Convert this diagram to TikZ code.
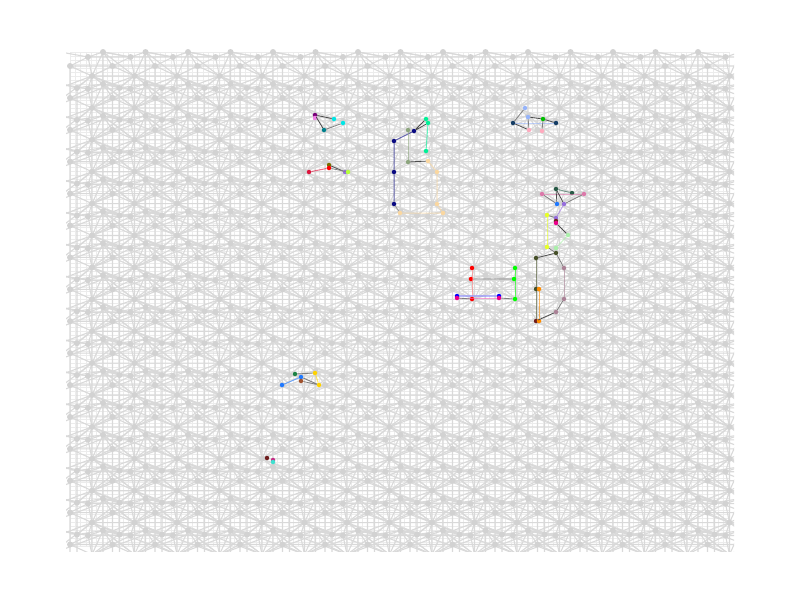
\documentclass[tikz,border=0pt]{standalone}
\usepackage{tikz}
\definecolor{navyq}{RGB}{10,10,130}
\definecolor{peachq}{RGB}{250,215,160}
\definecolor{mintq}{RGB}{0,240,150}
\definecolor{sageq}{RGB}{140,165,125}
\definecolor{tealq}{RGB}{0,128,140}
\definecolor{cyanq}{RGB}{0,230,230}
\definecolor{plumq}{RGB}{120,0,120}
\definecolor{orchq}{RGB}{240,130,230}
\definecolor{crimq}{RGB}{220,20,60}
\definecolor{oliveq}{RGB}{120,110,0}
\definecolor{mpurq}{RGB}{150,110,220}
\definecolor{limeq}{RGB}{180,255,60}
\definecolor{midnq}{RGB}{20,60,100}
\definecolor{skyq}{RGB}{150,180,250}
\definecolor{greenq}{RGB}{0,190,0}
\definecolor{rosq}{RGB}{255,170,190}
\definecolor{slateq}{RGB}{40,90,70}
\definecolor{pvioq}{RGB}{220,120,170}
\definecolor{dodgq}{RGB}{30,120,255}
\definecolor{yellq}{RGB}{230,255,40}
\definecolor{lgreenq}{RGB}{170,240,170}
\definecolor{dolivq}{RGB}{70,80,40}
\definecolor{orangq}{RGB}{255,140,0}
\definecolor{mauvq}{RGB}{170,130,150}
\definecolor{brownq}{RGB}{110,30,30}
\definecolor{seaq}{RGB}{30,130,70}
\definecolor{goldq}{RGB}{255,210,0}
\definecolor{siennq}{RGB}{160,82,45}
\definecolor{turqq}{RGB}{64,224,208}
\begin{document}
\begin{tikzpicture}[x=1pt,y=-1pt,
  qb/.style={circle,inner sep=0pt,minimum size=4.5pt,fill=#1},
  chain/.style={line width=1pt,draw=#1,opacity=.6},
  cpl/.style={line width=.8pt,draw=black!70},
  mesh/.style={draw=gray!30,line width=1.1pt}]
\useasboundingbox (0,0) rectangle (800,600);
\begin{scope}
\clip (66,48) rectangle (734,551);
\foreach \x in {0,...,124} {\draw[gray!15,line width=.5pt] (70+5.3125*\x,52)--(70+5.3125*\x,547);}
\foreach \y in {0,...,124} {\draw[gray!15,line width=.5pt] (70,52+3.9875*\y)--(730,52+3.9875*\y);}
\foreach \i in {0,...,15} {\foreach \j in {0,...,15} {
\begin{scope}[shift={(70+42.5*\i,52+31.9*\j)}]
\draw[mesh] (33,0)--(18,5) (33,0)--(22,24) (33,0)--(60.5,5) (33,0)--(42.5,14) (33,0)--(64.5,24)
  (22,24)--(0,14) (22,24)--(18,5) (22,24)--(7,36) (22,24)--(42.5,14) (22,24)--(33,31.9)
  (22,24)--(18,36.9) (22,24)--(49.5,36) (22,24)--(64.5,55.9) (22,24)--(-20.5,55.9)
  (22,24)--(64.5,24) (22,24)--(107,55.9) (22,24)--(-63,55.9) (22,24)--(22,55.9)
  (0,14)--(18,5) (7,36)--(33,31.9) (7,36)--(-9.5,31.9) (18,5)--(-9.5,0)
  (0,14)--(42.5,14) (18,5)--(60.5,5) (0,14)--(0,45.9) (7,36)--(7,67.9) (33,0)--(33,31.9);
\end{scope}}}
\foreach \i in {0,...,15} {\foreach \j in {0,...,15} {
\begin{scope}[shift={(70+42.5*\i,52+31.9*\j)}]
\foreach \p in {(0,14),(7,36),(18,5),(33,0),(22,24)} {\fill[gray!35] \p circle[radius=3pt];}
\end{scope}}}
\end{scope}
\node[qb=plumq] (p1) at (315,115) {};
\node[qb=orchq] (p2) at (315,118) {};
\node[qb=cyanq] (p3) at (334,119) {};
\node[qb=cyanq] (p4) at (343,123) {};
\node[qb=tealq] (p5) at (324,130) {};
\draw[cpl] (p1)--(p5) (p1)--(p3);
\draw[cpl,draw=black!50] (p5)--(p4);
\node[qb=crimq] (q1) at (309,172) {};
\node[qb=oliveq] (q2) at (329,165) {};
\node[qb=red] (q3) at (329,168) {};
\node[qb=mpurq] (q4) at (345,172) {};
\node[qb=limeq] (q5) at (348,172) {};
\draw[chain=crimq] (q1)--(q3);
\draw[cpl] (q2)--(q4);
\draw[cpl,draw=black!50] (q3)--(q5);
\node[qb=navyq] (r1) at (394,141) {};
\node[qb=navyq] (r2) at (394,172) {};
\node[qb=navyq] (r3) at (394,204) {};
\node[qb=navyq] (r4) at (414,131) {};
\node[qb=sageq] (s1) at (408,130) {};
\node[qb=sageq] (s2) at (408,162) {};
\node[qb=mintq] (m1) at (426,119) {};
\node[qb=mintq] (m2) at (428,123) {};
\node[qb=mintq] (m3) at (426,151) {};
\node[qb=peachq] (t1) at (428,161) {};
\node[qb=peachq] (t2) at (437,172) {};
\node[qb=peachq] (t3) at (437,204) {};
\node[qb=peachq] (t4) at (443,213) {};
\node[qb=peachq] (t5) at (400,213) {};
\draw[chain=navyq] (r1)--(r2)--(r3) (r1)--(r4);
\draw[chain=sageq] (s1)--(s2);
\draw[chain=mintq] (m2)--(m3);
\draw[chain=peachq] (t1)--(t2)--(t3)--(t4)--(t5);
\draw[cpl] (r4)--(m1) (r4)--(m2) (s2)--(t1);
\draw[cpl,draw=black!40] (r3)--(t5);
\node[qb=midnq] (u1) at (513,123) {};
\node[qb=skyq] (u2) at (525,108) {};
\node[qb=skyq] (u3) at (528,117) {};
\node[qb=greenq] (u4) at (543,119) {};
\node[qb=rosq] (u5) at (529,130) {};
\node[qb=rosq] (u6) at (542,131) {};
\node[qb=midnq] (u7) at (556,123) {};
\draw[chain=skyq] (u1)--(u7);
\draw[cpl,draw=black!50] (u1)--(u2) (u3)--(u5) (u4)--(u6);
\draw[cpl] (u1)--(u5) (u3)--(u4) (u4)--(u7);
\node[qb=slateq] (v1) at (556,189) {};
\node[qb=slateq] (v2) at (572,193) {};
\node[qb=pvioq] (w1) at (542,194) {};
\node[qb=pvioq] (w2) at (584,194) {};
\node[qb=dodgq] (x1) at (557,204) {};
\node[qb=mpurq] (y1) at (564,204) {};
\node[qb=mpurq] (y2) at (556,218) {};
\node[qb=brownq] (z1) at (556,221) {};
\node[qb=magenta] (z2) at (556,223) {};
\node[qb=yellq] (k1) at (547,215) {};
\node[qb=yellq] (k2) at (547,247) {};
\node[qb=lgreenq] (g1) at (568,235) {};
\node[qb=lgreenq] (g2) at (556,248) {};
\node[qb=dolivq] (o1) at (556,253) {};
\node[qb=dolivq] (o2) at (536,258) {};
\node[qb=dolivq] (o3) at (536,289) {};
\node[qb=brownq] (o4) at (536,321) {};
\node[qb=orangq] (n1) at (539,289) {};
\node[qb=orangq] (n2) at (539,321) {};
\node[qb=mauvq] (h1) at (564,268) {};
\node[qb=mauvq] (h2) at (564,299) {};
\node[qb=mauvq] (h3) at (556,312) {};
\draw[chain=slateq] (v1)--(v2);
\draw[chain=pvioq] (w1)--(w2);
\draw[chain=mpurq] (y1)--(y2);
\draw[chain=yellq] (k1)--(k2);
\draw[chain=lgreenq] (g1)--(g2);
\draw[chain=dolivq] (o2)--(o3)--(o4);
\draw[chain=orangq] (n1)--(n2);
\draw[chain=mauvq] (h1)--(h2);
\draw[cpl] (v1)--(x1) (v1)--(y1) (z2)--(g1) (o2)--(o1) (h3)--(o4);
\draw[cpl,draw=black!50] (w2)--(y1) (k1)--(y2) (k2)--(o1) (o1)--(h1) (h2)--(h3) (w1)--(x1);
\node[qb=red] (a1) at (472,268) {};
\node[qb=red] (a2) at (471,279) {};
\node[qb=red] (a3) at (472,299) {};
\node[qb=green] (b1) at (515,268) {};
\node[qb=green] (b2) at (514,279) {};
\node[qb=green] (b3) at (515,299) {};
\node[qb=blue] (c1) at (457,296) {};
\node[qb=blue] (c2) at (499,296) {};
\node[qb=magenta] (d1) at (457,298) {};
\node[qb=magenta] (d2) at (499,298) {};
\draw[chain=red!50] (a1)--(a3);
\draw[chain=green] (b1)--(b3);
\draw[chain=blue!45,line width=2pt] (c1)--(c2);
\draw[chain=magenta!60] (d1)--(d2);
\draw[cpl,draw=black!50] (a2)--(b2) (a3)--(d1) (d2)--(b3);
\node[qb=seaq] (e1) at (295,374) {};
\node[qb=goldq] (e2) at (315,373) {};
\node[qb=dodgq] (e3) at (301,377) {};
\node[qb=siennq] (e4) at (301,381) {};
\node[qb=goldq] (e5) at (319,385) {};
\node[qb=dodgq] (e6) at (282,385) {};
\draw[chain=goldq] (e2)--(e5);
\draw[chain=dodgq] (e6)--(e3);
\draw[cpl,draw=black!50] (e1)--(e2) (e4)--(e5) (e3)--(e5);
\node[qb=brownq] (f1) at (267,458) {};
\node[qb=magenta!80!black] (f2) at (273,460) {};
\node[qb=turqq] (f3) at (273,462) {};
\end{tikzpicture}
\end{document}
